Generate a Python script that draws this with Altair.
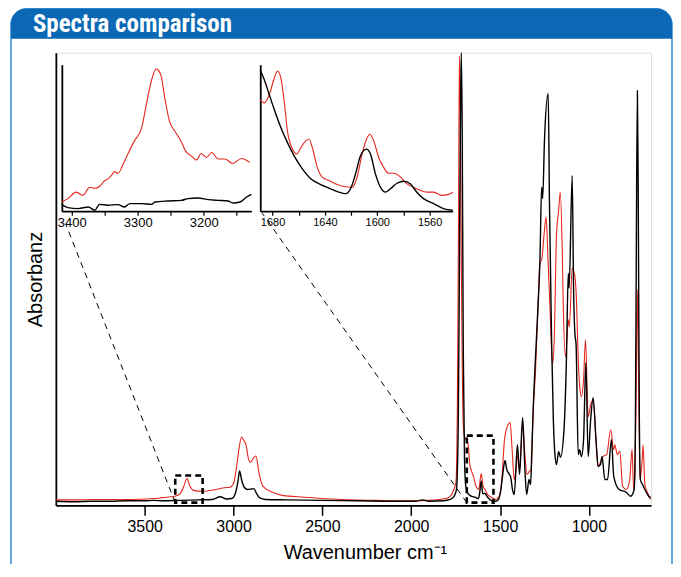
import altair as alt
import pandas as pd

# ---------------- main spectrum values ----------------
black_wn = [4000, 3900, 3800, 3700, 3600, 3500, 3450, 3400, 3300, 3200, 3120, 3075, 3040, 3010,
            2990, 2975, 2966, 2955, 2940, 2920, 2900, 2886, 2870, 2854, 2820, 2700, 2500, 2300,
            2100, 1980, 1935, 1900, 1820, 1780, 1760, 1745, 1735, 1728, 1722, 1718, 1713, 1707,
            1700, 1692, 1680, 1660, 1640, 1622, 1614, 1606, 1598, 1585, 1570, 1550, 1525, 1509,
            1495, 1485, 1472, 1462, 1450, 1440, 1430, 1420, 1402, 1390, 1373, 1360, 1350, 1337,
            1328, 1322, 1313, 1303, 1290, 1275, 1266, 1260, 1250, 1229, 1222, 1210, 1200, 1191,
            1182, 1170, 1160, 1140, 1126, 1116, 1111, 1094, 1086, 1079, 1072, 1060, 1052, 1042,
            1030, 1017, 1004, 990, 976, 960, 948, 935, 926, 910, 895, 873, 860, 830, 790, 765,
            745, 738, 733, 727, 722, 716, 710, 698, 685, 670, 658, 652]
black_abs = [0.009, 0.008, 0.009, 0.009, 0.010, 0.010, 0.011, 0.010, 0.011, 0.012, 0.013, 0.019, 0.014, 0.015,
             0.026, 0.053, 0.076, 0.057, 0.040, 0.035, 0.036, 0.037, 0.026, 0.017, 0.013, 0.012, 0.011, 0.010,
             0.009, 0.009, 0.012, 0.009, 0.010, 0.013, 0.019, 0.035, 0.189, 0.564, 0.894, 1.000, 0.828, 0.344,
             0.101, 0.040, 0.026, 0.020, 0.018, 0.015, 0.029, 0.054, 0.026, 0.026, 0.018, 0.011, 0.009, 0.013,
             0.035, 0.068, 0.099, 0.079, 0.070, 0.062, 0.035, 0.024, 0.134, 0.068, 0.194, 0.079, 0.024, 0.057,
             0.046, 0.110, 0.218, 0.306, 0.410, 0.548, 0.703, 0.678, 0.806, 0.910, 0.674, 0.366, 0.189, 0.112,
             0.090, 0.119, 0.106, 0.167, 0.328, 0.513, 0.480, 0.729, 0.476, 0.381, 0.355, 0.112, 0.123, 0.108,
             0.145, 0.315, 0.108, 0.189, 0.238, 0.145, 0.086, 0.090, 0.108, 0.057, 0.057, 0.145, 0.064, 0.035,
             0.029, 0.020, 0.035, 0.189, 0.564, 0.916, 0.674, 0.189, 0.057, 0.046, 0.035, 0.024, 0.018, 0.018]

red_wn = [4000, 3900, 3800, 3700, 3600, 3500, 3450, 3400, 3330, 3300, 3280, 3262, 3245, 3225, 3174,
          3100, 3050, 3020, 3000, 2985, 2970, 2955, 2945, 2930, 2915, 2905, 2885, 2873, 2860, 2840,
          2826, 2780, 2725, 2600, 2450, 2348, 2200, 2000, 1900, 1805, 1780, 1760, 1748, 1740, 1734,
          1729, 1724, 1718, 1712, 1706, 1698, 1690, 1681, 1670, 1660, 1650, 1635, 1620, 1606, 1595,
          1585, 1570, 1550, 1525, 1505, 1490, 1475, 1455, 1443, 1432, 1420, 1410, 1400, 1390, 1373,
          1360, 1348, 1335, 1325, 1313, 1300, 1285, 1275, 1266, 1250, 1241, 1230, 1219, 1205, 1195,
          1182, 1170, 1161, 1150, 1144, 1131, 1116, 1110, 1094, 1080, 1070, 1060, 1050, 1042, 1030,
          1019, 1004, 990, 976, 960, 948, 920, 900, 877, 860, 854, 840, 826, 810, 790, 770, 757,
          748, 740, 733, 727, 720, 712, 700, 695, 685, 665, 652]
red_abs = [0.012, 0.012, 0.013, 0.013, 0.013, 0.014, 0.015, 0.017, 0.020, 0.026, 0.042, 0.059, 0.042, 0.033, 0.031,
           0.035, 0.039, 0.040, 0.048, 0.079, 0.123, 0.151, 0.145, 0.134, 0.101, 0.095, 0.106, 0.109, 0.079, 0.046,
           0.039, 0.029, 0.022, 0.018, 0.014, 0.012, 0.011, 0.010, 0.011, 0.015, 0.020, 0.035, 0.051, 0.233, 0.600,
           0.993, 0.870, 0.550, 0.280, 0.170, 0.150, 0.145, 0.139, 0.090, 0.075, 0.064, 0.042, 0.035, 0.070, 0.042,
           0.035, 0.024, 0.018, 0.013, 0.020, 0.057, 0.145, 0.178, 0.183, 0.123, 0.057, 0.079, 0.112, 0.079, 0.178,
           0.112, 0.068, 0.075, 0.079, 0.211, 0.300, 0.454, 0.537, 0.542, 0.608, 0.637, 0.542, 0.438, 0.311, 0.366,
           0.601, 0.652, 0.692, 0.564, 0.438, 0.328, 0.410, 0.394, 0.524, 0.509, 0.454, 0.322, 0.256, 0.240, 0.278,
           0.366, 0.196, 0.222, 0.233, 0.145, 0.086, 0.108, 0.112, 0.167, 0.123, 0.134, 0.112, 0.120, 0.042, 0.035,
           0.057, 0.123, 0.035, 0.079, 0.278, 0.476, 0.278, 0.057, 0.101, 0.134, 0.046, 0.024, 0.013]

# ---------------- inset 1 (3415-3128 cm-1), relative absorbance ----------------
in1_red_wn = [3415, 3406, 3393, 3383, 3373, 3365, 3358, 3350, 3345, 3340, 3335, 3330, 3322, 3315, 3305,
              3294, 3287, 3279, 3272, 3265, 3259, 3252, 3244, 3236, 3226, 3219, 3211, 3204, 3196, 3188,
              3178, 3168, 3156, 3143, 3130]
in1_red_abs = [0.063, 0.086, 0.130, 0.108, 0.164, 0.157, 0.169, 0.209, 0.221, 0.243, 0.270, 0.259, 0.322, 0.390, 0.480,
               0.570, 0.728, 0.897, 0.971, 0.930, 0.772, 0.615, 0.547, 0.491, 0.401, 0.378, 0.349, 0.394, 0.367, 0.401,
               0.356, 0.356, 0.326, 0.360, 0.333]
in1_blk_wn = [3415, 3406, 3390, 3375, 3365, 3358, 3345, 3330, 3320, 3312, 3294, 3279, 3274, 3254, 3234,
              3224, 3209, 3193, 3178, 3163, 3156, 3145, 3135, 3128]
in1_blk_abs = [0.045, 0.025, 0.018, 0.029, 0.007, 0.047, 0.041, 0.045, 0.029, 0.052, 0.052, 0.047, 0.063, 0.070, 0.074,
               0.086, 0.090, 0.079, 0.074, 0.070, 0.056, 0.063, 0.097, 0.115]

# ---------------- inset 2 (1689-1542 cm-1), relative absorbance ----------------
in2_red_wn = [1689.4, 1686.3, 1682.5, 1678.7, 1676.2, 1673.6, 1671.1, 1668.6, 1664.8, 1661.4, 1658.4, 1654.6,
              1652.1, 1649.6, 1645.8, 1642.0, 1636.9, 1630.6, 1625.5, 1619.2, 1615.4, 1611.6, 1608.2, 1605.7,
              1602.7, 1598.9, 1595.1, 1591.3, 1587.5, 1583.6, 1577.3, 1569.8, 1562.1, 1557.0, 1550.7, 1545.6, 1542.4]
in2_red_abs = [0.761, 0.739, 0.795, 0.907, 0.957, 0.907, 0.750, 0.547, 0.424, 0.390, 0.434, 0.480,
               0.491, 0.434, 0.299, 0.232, 0.209, 0.182, 0.169, 0.164, 0.232, 0.390, 0.491, 0.525,
               0.480, 0.367, 0.299, 0.259, 0.259, 0.243, 0.187, 0.153, 0.130, 0.130, 0.108, 0.115, 0.130]
in2_blk_wn = [1689.4, 1686.3, 1682.5, 1678.7, 1673.6, 1668.6, 1663.5, 1657.2, 1650.8, 1643.2, 1635.6, 1629.3,
              1624.2, 1620.4, 1616.6, 1612.8, 1608.2, 1605.2, 1601.4, 1597.6, 1593.8, 1590.0, 1584.9, 1579.8,
              1574.8, 1569.8, 1564.6, 1557.0, 1549.4, 1542.4]
in2_blk_abs = [0.964, 0.897, 0.795, 0.694, 0.570, 0.468, 0.378, 0.289, 0.221, 0.182, 0.153, 0.130,
               0.120, 0.153, 0.255, 0.378, 0.424, 0.390, 0.255, 0.164, 0.130, 0.153, 0.191, 0.205,
               0.187, 0.130, 0.086, 0.052, 0.018, 0.007]

# zoom boxes on the main spectrum (wavenumber range, absorbance range)
box_wn1 = [3328, 1687]
box_wn2 = [3174, 1537]
box_a1 = [0.006, 0.006]
box_a2 = [0.066, 0.154]

main_ticks = [3500, 3000, 2500, 2000, 1500, 1000]
in1_ticks = [3400, 3350, 3300, 3250, 3200, 3150]
in2_ticks = [1680, 1660, 1640, 1620, 1600, 1580, 1560]

TITLE = "Spectra comparison"
BLUE = "#0a68b4"
FRAME = "#3d8fd9"
RED = "#e5261d"
FONT = "Liberation Sans"

W, H = 597, 454

# ---------------- main chart ----------------
df_black = pd.DataFrame({"wn": black_wn, "abs": black_abs})
df_red = pd.DataFrame({"wn": red_wn, "abs": red_abs})

main_axis_x = alt.Axis(values=main_ticks, format="d", orient="bottom", tickSize=10, tickWidth=1.5,
                       tickColor="black", domainColor="black", domainWidth=1.8, labelFontSize=16,
                       labelColor="black", labelFont=FONT, labelPadding=3, labelFlush=False,
                       title="Wavenumber cm⁻¹", titleFontSize=20, titleFontWeight="normal",
                       titleFont=FONT, titleColor="black", titlePadding=8, titleX=310, grid=False)
main_axis_y = alt.Axis(orient="left", ticks=False, labels=False, grid=False, domainColor="black",
                       domainWidth=1.8, title="Absorbanz", titleFontSize=20, titleFontWeight="normal",
                       titleFont=FONT, titleColor="black", titlePadding=10)
xs = alt.Scale(domain=[4000, 650], nice=False, zero=False)
ys = alt.Scale(domain=[0, 1], nice=False, zero=False)

red_line = alt.Chart(df_red).mark_line(color=RED, strokeWidth=1.1, interpolate="monotone").encode(
    x=alt.X("wn:Q", scale=xs, axis=main_axis_x),
    y=alt.Y("abs:Q", scale=ys, axis=main_axis_y))
black_line = alt.Chart(df_black).mark_line(color="black", strokeWidth=1.4, interpolate="monotone").encode(
    x=alt.X("wn:Q", scale=xs, axis=main_axis_x),
    y=alt.Y("abs:Q", scale=ys, axis=main_axis_y))

df_box = pd.DataFrame({"wn": box_wn1, "wn2": box_wn2, "abs": box_a1, "abs2": box_a2})
boxes = alt.Chart(df_box).mark_rect(fillOpacity=0, stroke="black", strokeWidth=2.6,
                                    strokeDash=[6, 4]).encode(
    x=alt.X("wn:Q", scale=xs, axis=main_axis_x), x2="wn2:Q",
    y=alt.Y("abs:Q", scale=ys, axis=main_axis_y), y2="abs2:Q")

conn1 = alt.Chart(df_box.iloc[[0]]).mark_rule(color="black", strokeWidth=1, strokeDash=[6, 5]).encode(
    x=alt.X("wn:Q", scale=xs, axis=main_axis_x), y=alt.Y("abs:Q", scale=ys, axis=main_axis_y),
    x2=alt.value(10), y2=alt.value(172))
conn2 = alt.Chart(df_box.iloc[[1]]).mark_rule(color="black", strokeWidth=1, strokeDash=[6, 5]).encode(
    x=alt.X("wn:Q", scale=xs, axis=main_axis_x), y=alt.Y("abs:Q", scale=ys, axis=main_axis_y),
    x2=alt.value(207), y2=alt.value(161))

main_layer = alt.layer(red_line, black_line, boxes, conn1, conn2)


# ---------------- insets ----------------
def inset(red_w, red_a, blk_w, blk_a, domain, xrange, ticks, every, lab_size, yoff):
    ax_x = alt.Axis(values=ticks, format="d", orient="bottom", offset=yoff, tickSize=4, tickWidth=1.2,
                    tickColor="black", domainColor="black", domainWidth=1.8, labelFontSize=lab_size,
                    labelColor="black", labelFont=FONT, labelPadding=1, labelFlush=False,
                    labelOverlap=False, labelExpr=f"datum.value % {every} == 0 ? datum.label : ''",
                    title=None, grid=False)
    ax_y = alt.Axis(orient="left", offset=-xrange[0], ticks=False, labels=False, grid=False,
                    domainColor="black", domainWidth=1.8, title=None)
    sx = alt.Scale(domain=domain, range=xrange, nice=False, zero=False)
    sy = alt.Scale(domain=[0, 1], range=[159, 12], nice=False, zero=False)
    r = alt.Chart(pd.DataFrame({"wn": red_w, "abs": red_a})).mark_line(
        color=RED, strokeWidth=1.1, interpolate="monotone").encode(
        x=alt.X("wn:Q", scale=sx, axis=ax_x), y=alt.Y("abs:Q", scale=sy, axis=ax_y))
    b = alt.Chart(pd.DataFrame({"wn": blk_w, "abs": blk_a})).mark_line(
        color="black", strokeWidth=1.4, interpolate="monotone").encode(
        x=alt.X("wn:Q", scale=sx, axis=ax_x), y=alt.Y("abs:Q", scale=sy, axis=ax_y))
    return alt.layer(r, b)


inset1 = inset(in1_red_wn, in1_red_abs, in1_blk_wn, in1_blk_abs, [3415, 3128], [6, 196],
               in1_ticks, 100, 13, -295)
inset2 = inset(in2_red_wn, in2_red_abs, in2_blk_wn, in2_blk_abs, [1689.4, 1542.4], [205, 398],
               in2_ticks, 40, 11, -295)

# ---------------- card decoration ----------------
one = pd.DataFrame({"a": [0]})
frame = alt.Chart(one).mark_rect(fillOpacity=0, stroke=FRAME, strokeWidth=1.6, cornerRadius=16).encode(
    x=alt.value(-45), x2=alt.value(618), y=alt.value(-44), y2=alt.value(530))
bar = alt.Chart(one).mark_rect(fill=BLUE, cornerRadiusTopLeft=16, cornerRadiusTopRight=16).encode(
    x=alt.value(-45), x2=alt.value(618), y=alt.value(-44), y2=alt.value(-14))
title = alt.Chart(one).mark_text(text=TITLE, align="left", baseline="alphabetic", color="white",
                                 font="Liberation Sans Narrow, Roboto Condensed, Liberation Sans",
                                 fontSize=25, fontWeight="bold").encode(
    x=alt.value(-23), y=alt.value(-21))

chart = alt.layer(frame, bar, title, main_layer, inset1, inset2).resolve_scale(
    x="independent", y="independent").resolve_axis(x="independent", y="independent").properties(
    width=W, height=H,
    padding={"left": 48, "top": 44, "right": 22, "bottom": 58},
    autosize=alt.AutoSizeParams(type="none"),
    background="white",
).configure_view(stroke=None).configure(font=FONT)

chart.save("out.html", embed_options={"renderer": "svg", "actions": False})
